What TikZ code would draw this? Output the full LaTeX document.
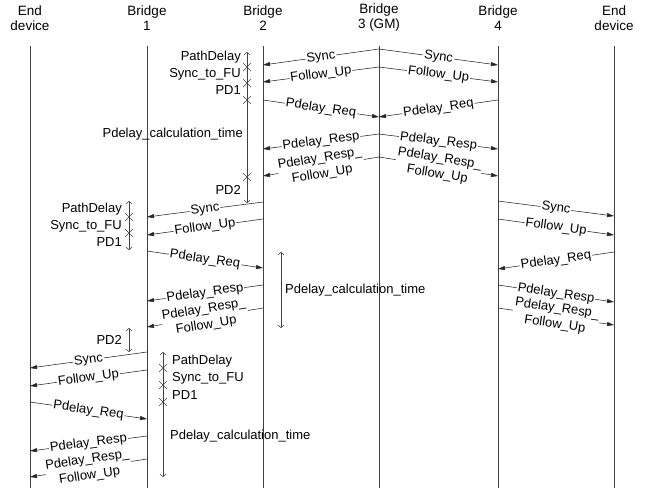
\documentclass[tikz,border=0pt]{standalone}
\usepackage{fontspec}
\setmainfont{Liberation Sans}
\usetikzlibrary{arrows.meta,shapes.misc}
\newcommand\mymsg[6]{%
  \coordinate (#1s) at (#2,#3);
  \coordinate (#1e) at (#4,#5);
  \draw[msg] (#1s) -- node[lbl] {#6} (#1e);}
\newcommand\myspan[4]{%
  \coordinate (#1t) at (#2,#3);
  \coordinate (#1b) at (#2,#4);
  \draw[spanarrow] (#1t) -- (#1b);}
\begin{document}
\begin{tikzpicture}[x=1pt,y=-1pt,
  life/.style={draw=black!75, line width=0.8pt},
  msg/.style={draw=black!85, line width=0.55pt, -{Triangle[length=7pt,width=4pt]}},
  lbl/.style={sloped, pos=0.5, fill=white, inner sep=1pt, font=\fontsize{13}{16}\selectfont, align=center},
  hdr/.style={align=center, font=\fontsize{13.5}{15}\selectfont, inner sep=0pt},
  spanarrow/.style={draw=black!75, line width=0.55pt, {Straight Barb[length=2.5pt,width=6pt]}-{Straight Barb[length=2.5pt,width=6pt]}},
  xmk/.style={cross out, draw=black!75, line width=0.55pt, minimum size=7pt, inner sep=0pt},
  annot/.style={font=\fontsize{13}{15}\selectfont, inner sep=0pt},
]
\useasboundingbox[fill=white] (0,0) rectangle (660,491);

% headers
\node[hdr] (h1) at (30,18) {End\\device};
\node[hdr] (h2) at (147,18) {Bridge\\1};
\node[hdr] (h3) at (263,18) {Bridge\\2};
\node[hdr] (h4) at (379,18) {Bridge\\3 (GM)};
\node[hdr] (h5) at (498,18) {Bridge\\4};
\node[hdr] (h6) at (614,18) {End\\device};

% lifelines
\foreach \n/\x in {e1/30,b1/147,b2/263,b3/379,b4/498,e2/614}{
  \coordinate (\n t) at (\x,46);
  \coordinate (\n b) at (\x,488);
  \draw[life] (\n t) -- (\n b);
}

% cycle 1
\mymsg{sa}{379}{49}{263}{65}{Sync}
\mymsg{sb}{379}{49}{498}{65}{Sync}
\mymsg{fa}{379}{67}{263}{82}{Follow\_Up}
\mymsg{fb}{379}{67}{498}{82}{Follow\_Up}
\mymsg{qa}{263}{100}{379}{117}{Pdelay\_Req}
\mymsg{qb}{498}{100}{379}{117}{Pdelay\_Req}
\mymsg{ra}{379}{134}{263}{149}{Pdelay\_Resp}
\mymsg{rb}{379}{134}{498}{149}{Pdelay\_Resp}
\mymsg{ua}{379}{157}{263}{176}{Pdelay\_Resp\_\\Follow\_Up}
\mymsg{ub}{379}{157}{498}{176}{Pdelay\_Resp\_\\Follow\_Up}

% cycle 2
\mymsg{sc}{263}{202}{147}{217}{Sync}
\mymsg{sd}{498}{201}{614}{216}{Sync}
\mymsg{fc}{263}{219}{147}{235}{Follow\_Up}
\mymsg{fd}{498}{219}{614}{235}{Follow\_Up}
\mymsg{qc}{147}{251}{263}{268}{Pdelay\_Req}
\mymsg{qd}{614}{252}{498}{269}{Pdelay\_Req}
\mymsg{rc}{263}{285}{147}{301}{Pdelay\_Resp}
\mymsg{rd}{498}{285}{614}{302}{Pdelay\_Resp}
\mymsg{uc}{263}{308}{147}{327}{Pdelay\_Resp\_\\Follow\_Up}
\mymsg{ud}{498}{308}{614}{325}{Pdelay\_Resp\_\\Follow\_Up}

% cycle 3
\mymsg{se}{147}{352}{30}{368}{Sync}
\mymsg{fe}{147}{370}{30}{386}{Follow\_Up}
\mymsg{qe}{30}{402}{147}{419}{Pdelay\_Req}
\mymsg{re}{147}{436}{30}{451}{Pdelay\_Resp}
\mymsg{ue}{147}{459}{30}{477}{Pdelay\_Resp\_\\Follow\_Up}

% annotations cycle 1 (Bridge 2)
\myspan{ka}{247}{52}{203}
\node[xmk] (xa1) at (247,67) {};
\node[xmk] (xa2) at (247,83) {};
\node[xmk] (xa3) at (247,100) {};
\node[xmk] (xa4) at (247,177) {};
\node[annot, anchor=east] (ta1) at (241,57) {PathDelay};
\node[annot, anchor=east] (ta2) at (241,74) {Sync\_to\_FU};
\node[annot, anchor=east] (ta3) at (241,90) {PD1};
\node[annot, anchor=east] (ta4) at (243,134) {Pdelay\_calculation\_time};
\node[annot, anchor=east] (ta5) at (241,190) {PD2};

% annotations cycle 2 (Bridge 1)
\myspan{kb}{129}{201}{250}
\node[xmk] (xb1) at (129,217) {};
\node[xmk] (xb2) at (129,233) {};
\node[annot, anchor=east] (tb1) at (122,209) {PathDelay};
\node[annot, anchor=east] (tb2) at (122,226) {Sync\_to\_FU};
\node[annot, anchor=east] (tb3) at (122,242) {PD1};
\myspan{kc}{281}{252}{328}
\node[annot, anchor=west] (tc1) at (285,290) {Pdelay\_calculation\_time};
\myspan{kd}{129}{328}{352}
\node[annot, anchor=east] (td1) at (122,340) {PD2};

% annotations cycle 3 (Bridge 1 right side)
\myspan{ke}{163}{352}{477}
\node[xmk] (xe1) at (163,368) {};
\node[xmk] (xe2) at (163,385) {};
\node[xmk] (xe3) at (163,402) {};
\node[annot, anchor=west] (te1) at (172,361) {PathDelay};
\node[annot, anchor=west] (te2) at (172,378) {Sync\_to\_FU};
\node[annot, anchor=west] (te3) at (172,395) {PD1};
\node[annot, anchor=west] (te4) at (170,436) {Pdelay\_calculation\_time};
\end{tikzpicture}
\end{document}
